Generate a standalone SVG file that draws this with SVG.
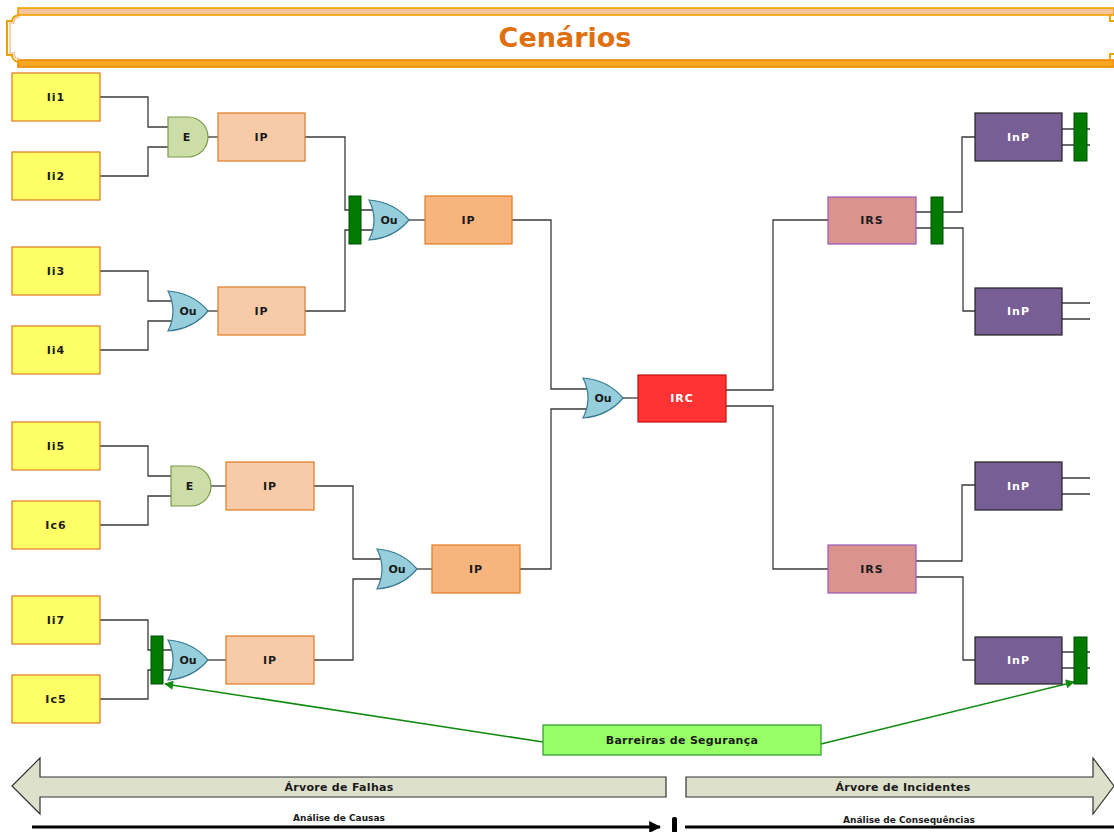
<svg xmlns="http://www.w3.org/2000/svg" xmlns:xlink="http://www.w3.org/1999/xlink" width="1114" height="832" viewBox="0 0 1114 832">
  <style>
    text { font-family: "DejaVu Sans", Verdana, sans-serif; font-weight: bold; text-anchor: middle; dominant-baseline: central; }
    .lbl { font-size: 11px; fill: #1a1a1a; letter-spacing: 1px; }
    .lbl-w { font-size: 11px; fill: #ffffff; letter-spacing: 1px; }
    .input { fill: #ffff66; stroke: #e07a20; stroke-width: 1.2; }
    .ip { fill: #f8cba8; stroke: #e07a20; stroke-width: 1.2; }
    .ip2 { fill: #f7b47c; stroke: #e07a20; stroke-width: 1.2; }
    .irc { fill: #ff3333; stroke: #c01010; stroke-width: 1.2; }
    .irs { fill: #d9948f; stroke: #9b59b6; stroke-width: 1.2; }
    .inp { fill: #775f96; stroke: #222222; stroke-width: 1.2; }
    .bar { fill: #007a00; stroke: #005000; stroke-width: 1; }
    .and { fill: #ccdda8; stroke: #7a9a4a; stroke-width: 1.2; }
    .or { fill: #96cedb; stroke: #3a7a90; stroke-width: 1.2; }
    .wire { fill: none; stroke: #3a3a3a; stroke-width: 1.3; }
    .green { fill: none; stroke: #108a10; stroke-width: 1.6; }
    .band { fill: #dde0cb; stroke: #333333; stroke-width: 1.2; }
    .frame { fill: none; stroke: #f0a000; stroke-width: 2; }
  </style>
  <defs>
    <path id="and-gate" d="M0,0 H20 A20,20 0 0 1 20,40 H0 Z"/>
    <path id="or-gate" d="M0,0 Q25,2 40,20 Q25,38 0,40 Q10,20 0,0 Z"/>
    <marker id="green-head" viewBox="0 0 10 10" refX="9" refY="5" markerWidth="11" markerHeight="9" orient="auto" markerUnits="userSpaceOnUse">
      <path d="M0,0 L10,5 L0,10 Z" fill="#108a10"/>
    </marker>
    <marker id="black-head" viewBox="0 0 10 10" refX="9" refY="5" markerWidth="12" markerHeight="12" orient="auto" markerUnits="userSpaceOnUse">
      <path d="M0,0 L10,5 L0,10 Z" fill="#000000"/>
    </marker>
  </defs>

  <!-- title banner -->
  <g id="title">
    <rect x="18" y="8" width="1096" height="7" fill="#f8c49a" stroke="#f0a000" stroke-width="1.6"/>
    <rect x="18" y="60" width="1096" height="7" fill="#f5a623" stroke="#e88a00" stroke-width="1.6"/>
    <path class="frame" d="M20,15 C15,15 12,18 12,21 L7,21 L7,55 L12,55 C12,59 15,62 20,62"/>
    <path d="M20,17 C16,17 14,19 14,23 L10,23 L10,53 L14,53 C14,57 16,59 20,59" fill="none" stroke="#f8c49a" stroke-width="1.5"/>
    <path class="frame" d="M1110,15 V21 H1114 M1110,60 V54 H1114"/>
    <text x="565" y="37" style="font-size:27px; fill:#e0700f; letter-spacing:0">Cenários</text>
  </g>

  <!-- connectors -->
  <g id="connectors">
    <path class="wire" d="M100,97 H148 V127 H170"/>
    <path class="wire" d="M100,176 H148 V147 H170"/>
    <path class="wire" d="M208,137 H218"/>
    <path class="wire" d="M100,271 H148 V301 H172"/>
    <path class="wire" d="M100,350 H148 V321 H172"/>
    <path class="wire" d="M208,311 H218"/>
    <path class="wire" d="M305,137 H345 V210 H373"/>
    <path class="wire" d="M305,311 H345 V230 H373"/>
    <path class="wire" d="M409,220 H425"/>
    <path class="wire" d="M512,220 H551 V389 H587"/>
    <path class="wire" d="M520,569 H551 V409 H587"/>
    <path class="wire" d="M623,398 H638"/>
    <path class="wire" d="M726,390 H773 V220 H828"/>
    <path class="wire" d="M726,406 H773 V569 H828"/>
    <path class="wire" d="M916,212 H962 V137 H975"/>
    <path class="wire" d="M916,228 H963 V311 H975"/>
    <path class="wire" d="M1062,129 H1090 M1062,145 H1090"/>
    <path class="wire" d="M1062,303 H1090 M1062,319 H1090"/>
    <path class="wire" d="M916,561 H962 V485 H975"/>
    <path class="wire" d="M916,577 H963 V660 H975"/>
    <path class="wire" d="M1062,478 H1090 M1062,494 H1090"/>
    <path class="wire" d="M1062,652 H1090 M1062,668 H1090"/>
    <path class="wire" d="M100,446 H148 V476 H172"/>
    <path class="wire" d="M100,525 H148 V496 H172"/>
    <path class="wire" d="M211,486 H226"/>
    <path class="wire" d="M100,620 H148 V650 H172"/>
    <path class="wire" d="M100,699 H148 V670 H172"/>
    <path class="wire" d="M208,660 H226"/>
    <path class="wire" d="M314,486 H353 V559 H381"/>
    <path class="wire" d="M314,660 H353 V579 H381"/>
    <path class="wire" d="M417,569 H432"/>
    <path class="green" d="M543,742 L165,684" marker-end="url(#green-head)"/>
    <path class="green" d="M821,744 L1074,682" marker-end="url(#green-head)"/>
  </g>

  <!-- initiating events -->
  <g id="ii1"><rect class="input" x="12" y="73" width="88" height="48"/><text class="lbl" x="56" y="97">Ii1</text></g>
  <g id="ii2"><rect class="input" x="12" y="152" width="88" height="48"/><text class="lbl" x="56" y="176">Ii2</text></g>
  <g id="ii3"><rect class="input" x="12" y="247" width="88" height="48"/><text class="lbl" x="56" y="271">Ii3</text></g>
  <g id="ii4"><rect class="input" x="12" y="326" width="88" height="48"/><text class="lbl" x="56" y="350">Ii4</text></g>
  <g id="ii5"><rect class="input" x="12" y="422" width="88" height="48"/><text class="lbl" x="56" y="446">Ii5</text></g>
  <g id="ic6"><rect class="input" x="12" y="501" width="88" height="48"/><text class="lbl" x="56" y="525">Ic6</text></g>
  <g id="ii7"><rect class="input" x="12" y="596" width="88" height="48"/><text class="lbl" x="56" y="620">Ii7</text></g>
  <g id="ic5"><rect class="input" x="12" y="675" width="88" height="48"/><text class="lbl" x="56" y="699">Ic5</text></g>

  <!-- logic gates -->
  <g id="gate-e1" transform="translate(168,117)"><use xlink:href="#and-gate" class="and"/><text class="lbl" x="19" y="20">E</text></g>
  <g id="gate-ou1" transform="translate(168,291)"><use xlink:href="#or-gate" class="or"/><text class="lbl" x="20" y="20" style="letter-spacing:0">Ou</text></g>
  <g id="gate-ou2" transform="translate(369,200)"><use xlink:href="#or-gate" class="or"/><text class="lbl" x="20" y="20" style="letter-spacing:0">Ou</text></g>
  <g id="gate-ou3" transform="translate(583,378)"><use xlink:href="#or-gate" class="or"/><text class="lbl" x="20" y="20" style="letter-spacing:0">Ou</text></g>
  <g id="gate-e2" transform="translate(171,466)"><use xlink:href="#and-gate" class="and"/><text class="lbl" x="19" y="20">E</text></g>
  <g id="gate-ou4" transform="translate(168,640)"><use xlink:href="#or-gate" class="or"/><text class="lbl" x="20" y="20" style="letter-spacing:0">Ou</text></g>
  <g id="gate-ou5" transform="translate(377,549)"><use xlink:href="#or-gate" class="or"/><text class="lbl" x="20" y="20" style="letter-spacing:0">Ou</text></g>

  <!-- intermediate events -->
  <g id="ip1"><rect class="ip" x="218" y="113" width="87" height="48"/><text class="lbl" x="261.5" y="137">IP</text></g>
  <g id="ip2"><rect class="ip" x="218" y="287" width="87" height="48"/><text class="lbl" x="261.5" y="311">IP</text></g>
  <g id="ip3"><rect class="ip2" x="425" y="196" width="87" height="48"/><text class="lbl" x="468.5" y="220">IP</text></g>
  <g id="ip4"><rect class="ip" x="226" y="462" width="88" height="48"/><text class="lbl" x="270" y="486">IP</text></g>
  <g id="ip5"><rect class="ip" x="226" y="636" width="88" height="48"/><text class="lbl" x="270" y="660">IP</text></g>
  <g id="ip6"><rect class="ip2" x="432" y="545" width="88" height="48"/><text class="lbl" x="476" y="569">IP</text></g>

  <!-- critical event -->
  <g id="irc"><rect class="irc" x="638" y="375" width="88" height="47"/><text class="lbl-w" x="682" y="398.5">IRC</text></g>

  <!-- secondary events -->
  <g id="irs1"><rect class="irs" x="828" y="197" width="88" height="47"/><text class="lbl" x="872" y="220.5">IRS</text></g>
  <g id="irs2"><rect class="irs" x="828" y="545" width="88" height="48"/><text class="lbl" x="872" y="569">IRS</text></g>

  <!-- final events -->
  <g id="inp1"><rect class="inp" x="975" y="113" width="87" height="48"/><text class="lbl-w" x="1018.5" y="137">InP</text></g>
  <g id="inp2"><rect class="inp" x="975" y="288" width="87" height="47"/><text class="lbl-w" x="1018.5" y="311.5">InP</text></g>
  <g id="inp3"><rect class="inp" x="975" y="462" width="87" height="48"/><text class="lbl-w" x="1018.5" y="486">InP</text></g>
  <g id="inp4"><rect class="inp" x="975" y="637" width="87" height="47"/><text class="lbl-w" x="1018.5" y="660.5">InP</text></g>

  <!-- safety barriers -->
  <g id="barrier-1"><rect class="bar" x="349" y="196" width="12" height="48"/></g>
  <g id="barrier-2"><rect class="bar" x="931" y="197" width="12" height="47"/></g>
  <g id="barrier-3"><rect class="bar" x="1074" y="113" width="13" height="48"/></g>
  <g id="barrier-4"><rect class="bar" x="151" y="636" width="12" height="48"/></g>
  <g id="barrier-5"><rect class="bar" x="1074" y="637" width="13" height="47"/></g>

  <g id="barreiras">
    <rect x="543" y="725" width="278" height="30" fill="#99ff66" stroke="#2a9a2a" stroke-width="1.2"/>
    <text class="lbl" x="682" y="740" style="letter-spacing:0.3px">Barreiras de Segurança</text>
  </g>

  <!-- analysis direction bands -->
  <g id="arvore-falhas">
    <path class="band" d="M12,786 L40,758 L40,777 L666,777 L666,797 L40,797 L40,814 Z"/>
    <text class="lbl" x="339" y="787" style="letter-spacing:0.3px">Árvore de Falhas</text>
  </g>
  <g id="arvore-incidentes">
    <path class="band" d="M686,777 L1093,777 L1093,758 L1114,786 L1093,814 L1093,797 L686,797 Z"/>
    <text class="lbl" x="903" y="787" style="letter-spacing:0.3px">Árvore de Incidentes</text>
  </g>
  <g id="analise-causas">
    <path d="M32,827 H660" stroke="#000" stroke-width="3" fill="none" marker-end="url(#black-head)"/>
    <text x="339" y="818" style="font-size:9px; fill:#1a1a1a">Análise de Causas</text>
  </g>
  <rect x="672" y="817" width="5" height="16" rx="2" fill="#000"/>
  <g id="analise-consequencias">
    <path d="M685,827 H1114" stroke="#000" stroke-width="3" fill="none"/>
    <text x="909" y="820" style="font-size:9px; fill:#1a1a1a">Análise de Consequências</text>
  </g>
</svg>
